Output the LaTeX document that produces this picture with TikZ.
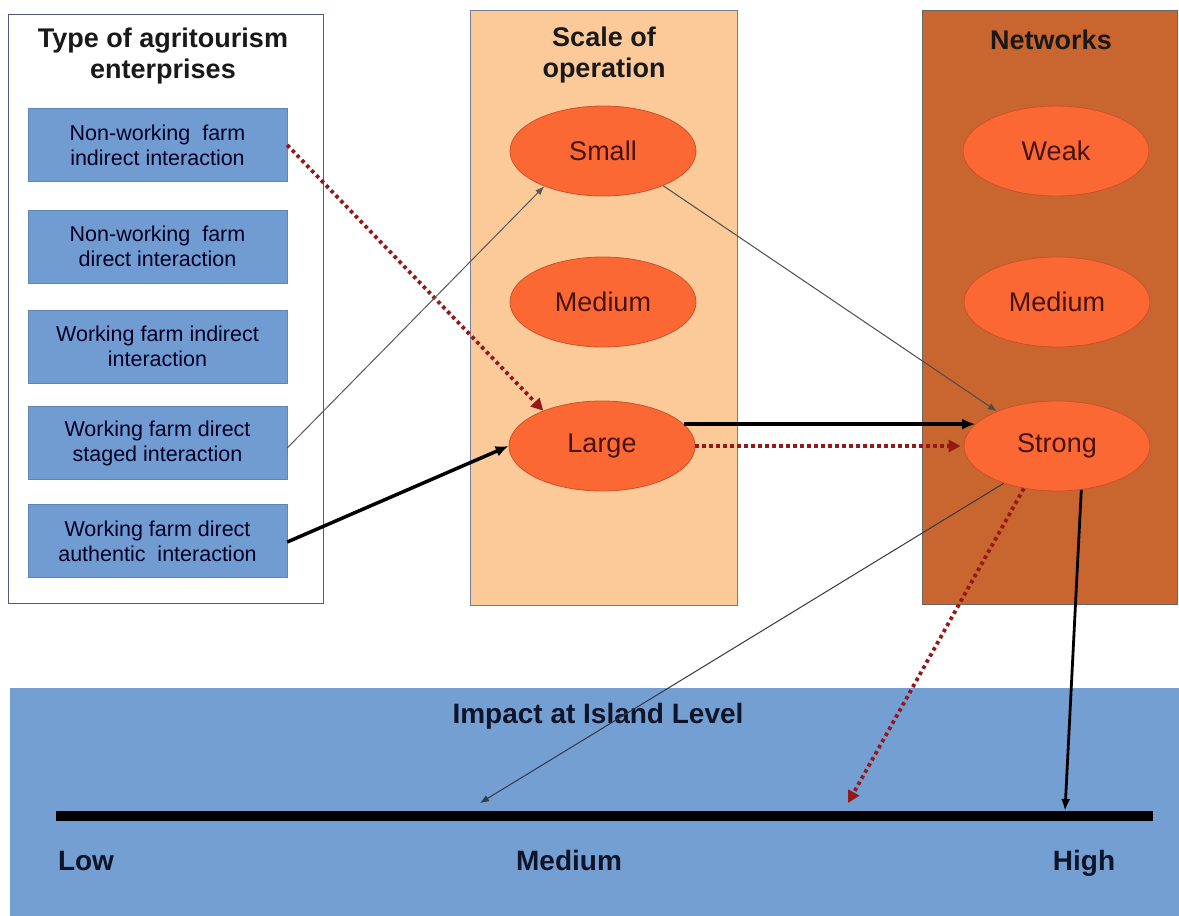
\documentclass[tikz,border=0pt]{standalone}
\usepackage{fontspec}
\setmainfont{Liberation Sans}
\usetikzlibrary{shapes.geometric,arrows.meta}
\definecolor{boxblue}{RGB}{112,156,209}
\definecolor{peach}{RGB}{252,202,152}
\definecolor{netbrown}{RGB}{201,102,48}
\definecolor{ellorange}{RGB}{251,104,52}
\definecolor{dotred}{RGB}{150,25,25}
\definecolor{navy}{RGB}{15,20,40}
\definecolor{framegray}{RGB}{80,92,125}
\definecolor{elltext}{RGB}{70,20,15}
\tikzset{
  panel/.style={draw=framegray, line width=1.3pt, anchor=north west, inner sep=0pt},
  typebox/.style={fill=boxblue, draw=boxblue!85!black, line width=0.4pt, minimum width=259pt, minimum height=73pt,
    inner sep=2pt, align=center, text=black!85!blue, font=\fontsize{21.5}{25}\selectfont},
  oval/.style={ellipse, fill=ellorange, draw=ellorange!80!black, line width=0.8pt, minimum width=186pt,
    minimum height=90pt, inner sep=0pt, text=elltext, font=\fontsize{27}{30}\selectfont},
  paneltitle/.style={align=center, font=\bfseries\fontsize{27}{31}\selectfont, text=black!90},
  scalelabel/.style={font=\bfseries\fontsize{28}{32}\selectfont, text=navy},
  thinarrow/.style={line width=1pt, -{Latex[length=9pt,width=7pt]}},
  thickarrow/.style={line width=3.5pt, -{Latex[length=13pt,width=11pt]}},
  dotarrow/.style={draw=dotred, line width=3.8pt, dash pattern=on 3.5pt off 3.5pt,
    -{Triangle[length=12pt,width=12pt]}}
}
\begin{document}
\begin{tikzpicture}[x=1pt,y=-1pt]
\useasboundingbox (0,0) rectangle (1179,916);
\fill[white] (0,0) rectangle (1179,916);

% panels
\node[panel, fill=white, minimum width=315pt, minimum height=589pt] (leftp) at (8,14) {};
\node[panel, fill=peach, draw=framegray!80, minimum width=267pt, minimum height=595pt] (midp) at (470,10) {};
\node[panel, fill=netbrown, draw=gray!80!black, minimum width=255pt, minimum height=594pt] (rightp) at (922,10) {};
\node[panel, fill=boxblue!97!white, draw=none, minimum width=1170pt, minimum height=229pt] (botp) at (9,687) {};

% titles
\node[paneltitle] (ttype) at (163,56) {Type of agritourism\\enterprises};
\node[paneltitle] (tscale) at (604,55) {Scale of\\operation};
\node[paneltitle] (tnet) at (1051,40) {Networks};
\node[scalelabel] (timpact) at (598,716) {Impact at Island Level};

% enterprise boxes
\node[typebox] (b1) at (157.5,145) {Non-working\ \ farm\\indirect interaction};
\node[typebox] (b2) at (157.5,246.5) {Non-working\ \ farm\\direct interaction};
\node[typebox] (b3) at (157.5,346.5) {Working farm indirect\\interaction};
\node[typebox] (b4) at (157.5,443) {Working farm direct\\staged interaction};
\node[typebox] (b5) at (157.5,541) {Working farm direct\\authentic\ \ interaction};

% scale ellipses
\node[oval] (small) at (603,151) {Small};
\node[oval] (smed) at (603,302) {Medium};
\node[oval] (large) at (602,446) {Large};

% network ellipses
\node[oval] (weak) at (1056,151) {Weak};
\node[oval] (nmed) at (1057,302) {Medium};
\node[oval] (strong) at (1057,446) {Strong};

% impact scale
\coordinate (axl) at (56,816);
\coordinate (axr) at (1153,816);
\draw[line width=10pt, line cap=butt, black] (axl) -- (axr);
\coordinate (tmed) at (480,803);
\coordinate (tmid) at (848,803);
\coordinate (thigh) at (1065,811);
\node[scalelabel, anchor=base] (llow) at (86,870) {Low};
\node[scalelabel, anchor=base] (lmed) at (569,870) {Medium};
\node[scalelabel, anchor=base] (lhigh) at (1084,870) {High};

% connectors
\draw[dotarrow] (b1.east) -- (large.149);
\draw[thinarrow, draw=black!65] ([yshift=-5pt]b4.east) -- (small.211);
\draw[thickarrow, draw=black] ([yshift=-1pt]b5.east) -- (large.west);
\draw[thinarrow, draw=black!70] (small.330) -- (strong.150);
\draw[thickarrow, draw=black] (large.15) -- (strong.165);
\draw[dotarrow, shorten >=3pt] (large.east) -- (strong.west);
\draw[thinarrow, draw=navy!85] (strong.215) -- (tmed);
\draw[dotarrow] (strong.232) -- (tmid);
\draw[line width=2.8pt, draw=black, -{Latex[length=12pt,width=9pt]}] (strong.299) -- (thigh);
\end{tikzpicture}
\end{document}
